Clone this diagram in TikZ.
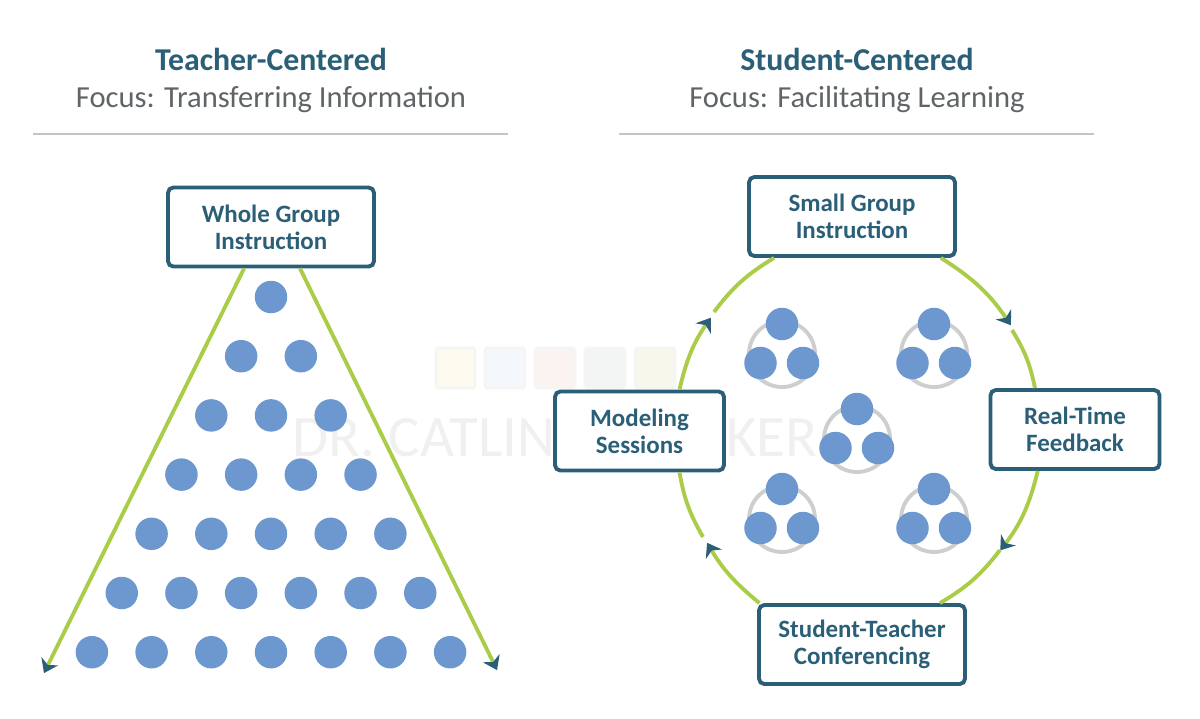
\documentclass[tikz,border=0pt]{standalone}
\usepackage{fontspec}
\setmainfont{Carlito}
\usetikzlibrary{arrows.meta}
\begin{document}
\begin{tikzpicture}[x=0.02cm,y=-0.02cm,
  titletext/.style={font=\fontsize{18.1}{20}\selectfont\bfseries,text=boxline},
  focustext/.style={font=\fontsize{17.4}{20}\selectfont,text=focusgray},
  headrule/.style={focusrule,line width=0.8pt},
  stagebox/.style={draw=boxline,line width=2.2pt,rounded corners=3pt,fill=white,align=center,
    minimum width=4.12cm,minimum height=1.58cm,inner sep=0pt,text=boxline,
    font=\fontsize{14.2}{15.4}\selectfont\bfseries},
  sidebox/.style={stagebox,minimum width=3.38cm},
  dot/.style={circle,fill=dotblue,minimum size=0.65cm,inner sep=0pt},
  flowline/.style={greenline,line width=2.2pt},
  flowarrow/.style={flowline,-{Stealth[length=7.5pt,width=10.5pt,inset=2.4pt,color=boxline,sep=1.2pt]}},
  wmark/.style={draw=black!4,line width=1.5pt,rounded corners=1pt}]
  \definecolor{boxline}{HTML}{2A5F77}
  \definecolor{focusgray}{HTML}{5F6467}
  \definecolor{focusrule}{HTML}{C4C4C4}
  \definecolor{dotblue}{HTML}{6C98CF}
  \definecolor{greenline}{HTML}{AACC48}
  \definecolor{ringgray}{HTML}{CECECE}
  \definecolor{wmyellow}{HTML}{FDFBF0}
  \definecolor{wmblue}{HTML}{F4F7FB}
  \definecolor{wmred}{HTML}{FBF3EF}
  \definecolor{wmgray}{HTML}{F3F5F5}
  \definecolor{wmcream}{HTML}{F8F7EC}
  \useasboundingbox (0,0) rectangle (1200,718);
  \fill [wmark,fill=wmyellow] (436,348) rectangle (475,388);
  \fill [wmark,fill=wmblue] (485,348) rectangle (525,388);
  \fill [wmark,fill=wmred] (535,348) rectangle (575,388);
  \fill [wmark,fill=wmgray] (585,348) rectangle (625,388);
  \fill [wmark,fill=wmcream] (635,348) rectangle (675,388);
  \node [text=black!6,font=\fontsize{33.4}{33}\selectfont] (watermark) at (555,438) {DR. CATLIN R. TUCKER};
  \node [titletext] (teachertitle) at (271,59.5) {Teacher-Centered};
  \node [focustext] (teacherfocus) at (271,100) {Focus: Transferring Information};
  \node [titletext] (studenttitle) at (857,59.5) {Student-Centered};
  \node [focustext] (studentfocus) at (857,100) {Focus: Facilitating Learning};
  \draw [headrule] (33,134) -- (508,134);
  \draw [headrule] (619,134) -- (1094,134);
  \foreach \row in {1,...,7}
    \foreach \col in {1,...,\row}
      \node [dot] (dot\row-\col) at ({271+(\col-(\row+1)/2)*59.7},{297+(\row-1)*59.2}) {};
  \node [stagebox] (wholegroup) at (271,227) {Whole Group\\Instruction};
  \coordinate (spreadleft) at (43,675);
  \coordinate (spreadright) at (498,672);
  \draw [flowarrow] (wholegroup.-123) -- (spreadleft);
  \draw [flowarrow] (wholegroup.-55) -- (spreadright);
  \foreach \cx/\cy/\name in {782/354/a,934/354/b,857/439/c,782/519/d,934/519/e} {
    \draw [ringgray,line width=2.2pt] (\cx,\cy) circle (33);
    \node [dot] (triad\name top) at (\cx,\cy-30) {};
    \node [dot] (triad\name left) at (\cx-21.5,\cy+9) {};
    \node [dot] (triad\name right) at (\cx+21,\cy+9) {};
  }
  \node [stagebox] (smallgroup) at (852,216.5) {Small Group\\Instruction};
  \node [sidebox] (realtime) at (1075,429.5) {Real-Time\\Feedback};
  \node [stagebox] (conferencing) at (862,644.5) {Student-Teacher\\Conferencing};
  \node [sidebox] (modeling) at (639.5,431) {Modeling\\Sessions};
  \coordinate (headright) at (1012,327);
  \coordinate (gapright) at (1012,330);
  \coordinate (headlower) at (999,552);
  \coordinate (gaplower) at (1000,550);
  \coordinate (headbottom) at (706,541);
  \coordinate (gapbottom) at (703,537);
  \coordinate (headleft) at (712,316);
  \coordinate (gapleft) at (714,312);
  \draw [flowarrow] (smallgroup.-25.5) to [bend left=12] (headright);
  \draw [flowline] (gapright) to [bend left=10] (realtime.134);
  \draw [flowarrow] (realtime.-132) to [bend left=12] (headlower);
  \draw [flowline] (gaplower) to [bend left=11] (conferencing.28);
  \draw [flowarrow] (conferencing.158) to [bend left=10] (headbottom);
  \draw [flowline] (gapbottom) to [bend left=10] (modeling.-46);
  \draw [flowarrow] (modeling.46) to [bend left=11] (headleft);
  \draw [flowline] (gapleft) to [bend left=11] (smallgroup.-152.5);
\end{tikzpicture}
\end{document}
